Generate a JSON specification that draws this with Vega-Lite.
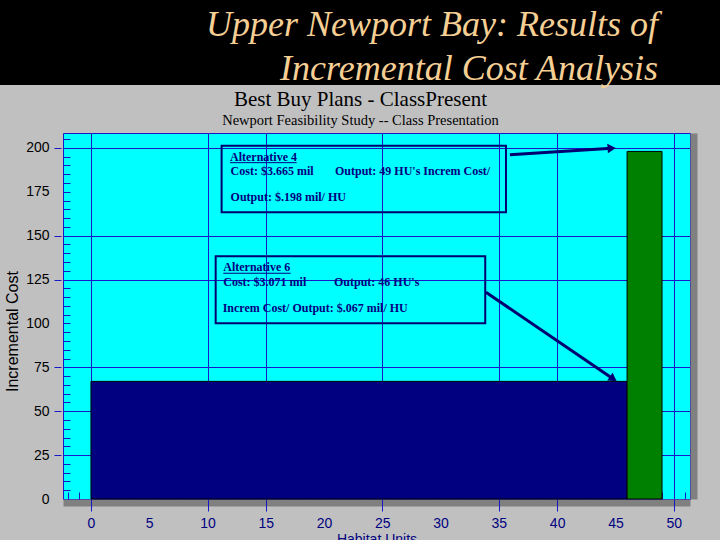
{
  "$schema": "https://vega.github.io/schema/vega-lite/v6.json",
  "background": "#C0C0C0",
  "padding": 0,
  "spacing": 0,
  "config": {"view": {"stroke": null}},
  "datasets": {
    "header": [
      {"line": 1, "text": "Upper Newport Bay:  Results of"},
      {"line": 2, "text": "Incremental Cost Analysis"}
    ],
    "plans": [
      {"plan": "Alternative 6", "start": 0, "end": 46, "cost": 67},
      {"plan": "Alternative 4", "start": 46, "end": 49, "cost": 198}
    ],
    "boxes": [
      {"box": "Alternative 4", "left": 11.21, "right": 35.61, "top": 201.3, "bottom": 163.3},
      {"box": "Alternative 6", "left": 10.7, "right": 33.83, "top": 138.3, "bottom": 100.1}
    ],
    "notes": [
      {"x": 11.93, "y": 192.7, "text": "Alternative 4"},
      {"x": 11.98, "y": 184.7, "text": "Cost: $3.665 mil"},
      {"x": 20.94, "y": 184.7, "text": "Output: 49 HU's Increm Cost/"},
      {"x": 11.98, "y": 169.9, "text": "Output:  $.198 mil/ HU"},
      {"x": 11.35, "y": 129.7, "text": "Alternative 6"},
      {"x": 11.35, "y": 121.2, "text": "Cost: $3.071 mil"},
      {"x": 20.85, "y": 121.2, "text": "Output: 46 HU's"},
      {"x": 11.3, "y": 106.4, "text": "Increm Cost/ Output:   $.067 mil/ HU"}
    ],
    "underlines": [
      {"x": 11.93, "x2": 17.65, "y": 191.6},
      {"x": 11.35, "x2": 17.13, "y": 128.6}
    ],
    "arrows": [
      {"id": "a4", "x": 35.95, "y": 196.1, "x2": 44.68, "y2": 199.8},
      {"id": "a6", "x": 33.89, "y": 117.8, "x2": 44.82, "y2": 68.4}
    ]
  },
  "vconcat": [
    {
      "width": 720,
      "height": 85,
      "view": {"fill": "black", "stroke": null},
      "data": {"name": "header"},
      "mark": {"type": "text", "font": "Liberation Serif", "fontStyle": "italic", "fontSize": 36, "color": "#F6CF95", "align": "right", "baseline": "alphabetic", "dx": 298},
      "encoding": {
        "y": {"field": "line", "type": "quantitative", "scale": {"domain": [0.18, 2.11], "reverse": true, "nice": false, "zero": false}, "axis": null},
        "text": {"field": "text"}
      }
    },
    {
      "spacing": 0,
      "hconcat": [
        {
          "width": 61,
          "height": 366,
          "data": {"name": "plans"},
          "mark": {"type": "tick", "opacity": 0},
          "encoding": {
            "y": {"field": "cost", "type": "quantitative", "scale": {"domain": [0, 208.5], "nice": false},
              "axis": {"orient": "left", "offset": -61, "values": [0,25,50,75,100,125,150,175,200], "domain": false, "grid": false,
                "tickColor": "#1818C8", "tickSize": 7, "tickWidth": 1,
                "tickOpacity": {"condition": {"test": "indexof([25,50,75,125,150,200], datum.value) >= 0", "value": 1}, "value": 0},
                "labelColor": "black", "labelFont": "Liberation Sans", "labelFontSize": 14, "labelPadding": 5, "labelFlush": false, "labelOverlap": false,
                "title": "Incremental Cost", "titleColor": "black", "titleFont": "Liberation Sans", "titleFontSize": 16, "titleFontWeight": "normal", "titlePadding": 5,
                "titleX": -41, "titleY": 198}}
          }
        },
        {
          "width": 627,
          "height": 366,
          "view": {"fill": "#00FFFF", "stroke": "#1818C8", "strokeWidth": 1},
          "title": {
            "text": "Best Buy Plans - ClassPresent",
            "subtitle": "Newport Feasibility Study -- Class Presentation",
            "font": "Liberation Serif", "fontSize": 21, "fontWeight": "normal", "color": "black",
            "subtitleFont": "Liberation Serif", "subtitleFontSize": 14.5, "subtitleColor": "black",
            "subtitlePadding": 4, "offset": 6, "anchor": "middle", "dx": -16
          },
          "resolve": {"axis": {"x": "independent", "y": "independent"}},
          "layer": [
            {
              "data": {"name": "plans"},
              "mark": {"type": "rect", "stroke": "black", "strokeWidth": 1},
              "encoding": {
                "x": {"field": "start", "type": "quantitative", "scale": {"domain": [-2.4, 51.4], "nice": false, "zero": false},
                  "axis": {"orient": "bottom", "domain": true, "domainColor": "#808080", "domainWidth": 7, "offset": 3.5, "ticks": false, "labels": false, "grid": false, "title": null}},
                "x2": {"field": "end"},
                "y": {"field": "cost", "type": "quantitative", "scale": {"domain": [0, 208.5], "nice": false},
                  "axis": {"orient": "right", "domain": true, "domainColor": "#808080", "domainWidth": 7, "offset": 3.5, "ticks": false, "labels": false, "grid": false, "title": null}},
                "y2": {"datum": 0},
                "color": {"field": "plan", "type": "nominal", "scale": {"domain": ["Alternative 6", "Alternative 4"], "range": ["#000080", "#008000"]}, "legend": null}
              }
            },
            {
              "data": {"name": "boxes"},
              "mark": {"type": "rect", "filled": false, "stroke": "#000070", "strokeWidth": 2},
              "encoding": {
                "x": {"field": "left", "type": "quantitative", "scale": {"domain": [-2.4, 51.4], "nice": false, "zero": false},
                  "axis": {"orient": "bottom", "values": [-2,-1,1,2,3,4,5,6,7,8,9,11,12,13,14,16,17,18,19,20,21,22,23,24,26,27,28,29,30,31,32,33,34,36,37,38,39,41,42,43,44,45,46,47,48,49,51], "tickSize": -7, "tickColor": "#1818C8", "labels": false, "domain": false, "grid": false, "title": null}},
                "x2": {"field": "right"},
                "y": {"field": "top", "type": "quantitative", "scale": {"domain": [0, 208.5], "nice": false},
                  "axis": {"orient": "left", "values": [5,10,15,20,30,35,40,45,55,60,65,70,80,85,90,95,100,105,110,115,120,130,135,140,145,155,160,165,170,175,180,185,190,195,205], "tickSize": -7, "tickColor": "#1818C8", "labels": false, "domain": false, "grid": false, "title": null}},
                "y2": {"field": "bottom"}
              }
            },
            {
              "data": {"name": "underlines"},
              "mark": {"type": "rule", "color": "#000080", "strokeWidth": 1},
              "encoding": {
                "x": {"field": "x", "type": "quantitative", "scale": {"domain": [-2.4, 51.4], "nice": false, "zero": false}, "axis": null},
                "x2": {"field": "x2"},
                "y": {"field": "y", "type": "quantitative", "scale": {"domain": [0, 208.5], "nice": false}, "axis": null}
              }
            },
            {
              "data": {"name": "arrows"},
              "mark": {"type": "rule", "color": "#000070", "strokeWidth": 3},
              "encoding": {
                "x": {"field": "x", "type": "quantitative", "scale": {"domain": [-2.4, 51.4], "nice": false, "zero": false}, "axis": null},
                "x2": {"field": "x2"},
                "y": {"field": "y", "type": "quantitative", "scale": {"domain": [0, 208.5], "nice": false}, "axis": null},
                "y2": {"field": "y2"}
              }
            },
            {
              "data": {"name": "arrows"},
              "mark": {"type": "point", "shape": "triangle-right", "filled": true, "color": "#000070", "size": 90, "opacity": 1},
              "encoding": {
                "x": {"field": "x2", "type": "quantitative", "scale": {"domain": [-2.4, 51.4], "nice": false, "zero": false}, "axis": null},
                "y": {"field": "y2", "type": "quantitative", "scale": {"domain": [0, 208.5], "nice": false}, "axis": null},
                "angle": {"condition": {"test": "datum.id === 'a4'", "value": -4}, "value": 34}
              }
            },
            {
              "data": {"name": "notes"},
              "mark": {"type": "text", "align": "left", "baseline": "alphabetic", "font": "Liberation Serif", "fontWeight": "bold", "fontSize": 12, "color": "#000080"},
              "encoding": {
                "x": {"field": "x", "type": "quantitative", "scale": {"domain": [-2.4, 51.4], "nice": false, "zero": false},
                  "axis": {"orient": "bottom", "values": [0,5,10,15,20,25,30,35,40,45,50], "format": "d", "domain": false,
                    "grid": true, "gridColor": "#1818C8", "gridWidth": 1,
                    "gridOpacity": {"condition": {"test": "indexof([0,10,15,25,35,40,50], datum.value) >= 0", "value": 1}, "value": 0},
                    "tickColor": "#1818C8", "tickSize": 12, "tickWidth": 1,
                    "tickOpacity": {"condition": {"test": "indexof([0,10,15,25,35,40,50], datum.value) >= 0", "value": 1}, "value": 0},
                    "labelColor": "#000080", "labelFont": "Liberation Sans", "labelFontSize": 14, "labelPadding": 5, "labelFlush": false, "labelOverlap": false,
                    "title": "Habitat Units", "titleColor": "#000080", "titleFont": "Liberation Sans", "titleFontSize": 14, "titleFontWeight": "normal", "titlePadding": 2}},
                "y": {"field": "y", "type": "quantitative", "scale": {"domain": [0, 208.5], "nice": false},
                  "axis": {"orient": "left", "values": [25,50,75,125,150,200], "domain": false, "ticks": false, "labels": false, "title": null,
                    "grid": true, "gridColor": "#1818C8", "gridWidth": 1}},
                "text": {"field": "text"}
              }
            }
          ]
        }
      ]
    }
  ]
}
